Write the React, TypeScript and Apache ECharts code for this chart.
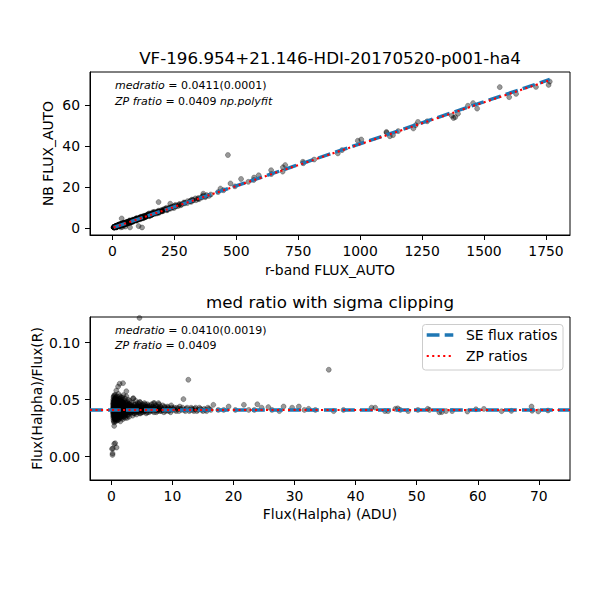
import React, { useEffect, useRef } from "react";
import * as echarts from "echarts";

const FONT = "DejaVu Sans";
const TITLE_TOP = "VF-196.954+21.146-HDI-20170520-p001-ha4";
const TITLE_BOTTOM = "med ratio with sigma clipping";
const X_NAME_TOP = "r-band FLUX_AUTO";
const Y_NAME_TOP = "NB FLUX_AUTO";
const X_NAME_BOTTOM = "Flux(Halpha) (ADU)";
const Y_NAME_BOTTOM = "Flux(Halpha)/Flux(R)";
const LEGEND_SE = "SE flux ratios";
const LEGEND_ZP = "ZP ratios";

const MED_RATIO_TOP = 0.0411;
const MED_ERR_TOP = 0.0001;
const ZP_RATIO = 0.0409;
const MED_RATIO_BOTTOM = 0.041;
const MED_ERR_BOTTOM = 0.0019;

const topXTicks = [0, 250, 500, 750, 1000, 1250, 1500, 1750];
const topYTicks = [0, 20, 40, 60];
const bottomXTicks = [0, 10, 20, 30, 40, 50, 60, 70];
const bottomYTicks = [0, 0.05, 0.1];

const TOP_X_RANGE = [-90, 1847];
const TOP_Y_RANGE = [-3.5, 76.2];
const BOTTOM_X_RANGE = [-3.5, 75.1];
const BOTTOM_Y_RANGE = [-0.0205, 0.1226];

// [NB flux, NB / r-band flux ratio]
const faintSources: [number, number][] = [
  [0.22, 0.041], [0.25, 0.046], [0.28, 0.036], [0.3, 0.05], [0.31, 0.039], [0.33, 0.044],
  [0.35, 0.032], [0.36, 0.047], [0.38, 0.041], [0.4, 0.053], [0.41, 0.037], [0.43, 0.043],
  [0.45, 0.03], [0.46, 0.049], [0.48, 0.04], [0.5, 0.045], [0.52, 0.034], [0.53, 0.051],
  [0.55, 0.042], [0.57, 0.038], [0.58, 0.047], [0.6, 0.033], [0.62, 0.044], [0.63, 0.054],
  [0.65, 0.04], [0.67, 0.036], [0.68, 0.048], [0.7, 0.042], [0.72, 0.031], [0.74, 0.045],
  [0.75, 0.052], [0.77, 0.039], [0.79, 0.043], [0.8, 0.035], [0.82, 0.049], [0.84, 0.041],
  [0.86, 0.046], [0.88, 0.037], [0.9, 0.053], [0.92, 0.04], [0.94, 0.044], [0.96, 0.032],
  [0.98, 0.048],
  [0.26, 0.038], [0.27, 0.043], [0.29, 0.048], [0.3, 0.034], [0.32, 0.041], [0.34, 0.052],
  [0.35, 0.039], [0.37, 0.044], [0.38, 0.035], [0.39, 0.049], [0.41, 0.042], [0.42, 0.031],
  [0.44, 0.046], [0.45, 0.04], [0.47, 0.054], [0.48, 0.036], [0.49, 0.043], [0.51, 0.048],
  [0.52, 0.039], [0.54, 0.033], [0.55, 0.045], [0.56, 0.05], [0.58, 0.041], [0.59, 0.037],
  [0.61, 0.047], [0.62, 0.034], [0.64, 0.042], [0.65, 0.051], [0.66, 0.044], [0.68, 0.038],
  [0.69, 0.032], [0.71, 0.046], [0.73, 0.04], [0.74, 0.049], [0.76, 0.035], [0.78, 0.044],
  [0.79, 0.05], [0.81, 0.038], [0.83, 0.042], [0.85, 0.033], [0.87, 0.047], [0.89, 0.041],
  [0.91, 0.036], [0.93, 0.05], [0.95, 0.043], [0.97, 0.039], [0.99, 0.045],
  [0.3, 0.042], [0.34, 0.045], [0.37, 0.038], [0.42, 0.047], [0.44, 0.036], [0.47, 0.041],
  [0.51, 0.044], [0.54, 0.04], [0.57, 0.046], [0.6, 0.039], [0.64, 0.047], [0.67, 0.043],
  [0.71, 0.038], [0.73, 0.044], [0.77, 0.047], [0.81, 0.041], [0.85, 0.045], [0.89, 0.039],
  [0.93, 0.043], [0.97, 0.046],
];

const midSources: [number, number][] = [
  [1.0, 0.042], [1.03, 0.038], [1.05, 0.05], [1.08, 0.035], [1.1, 0.045], [1.12, 0.041],
  [1.15, 0.055], [1.17, 0.039], [1.2, 0.047], [1.22, 0.033], [1.25, 0.043], [1.28, 0.051],
  [1.3, 0.04], [1.33, 0.036], [1.35, 0.046], [1.38, 0.042], [1.4, 0.053], [1.43, 0.038],
  [1.45, 0.044], [1.48, 0.031], [1.5, 0.049], [1.53, 0.041], [1.55, 0.037], [1.58, 0.045],
  [1.6, 0.052], [1.63, 0.04], [1.65, 0.034], [1.68, 0.047], [1.7, 0.043], [1.73, 0.039],
  [1.75, 0.05], [1.78, 0.036], [1.8, 0.044], [1.83, 0.041], [1.85, 0.048], [1.88, 0.033],
  [1.9, 0.042], [1.93, 0.046], [1.95, 0.038], [1.98, 0.054],
  [2.0, 0.04], [2.04, 0.045], [2.08, 0.035], [2.12, 0.049], [2.15, 0.042], [2.2, 0.038],
  [2.24, 0.051], [2.28, 0.043], [2.32, 0.036], [2.36, 0.046], [2.4, 0.041], [2.45, 0.053],
  [2.48, 0.039], [2.52, 0.044], [2.56, 0.034], [2.6, 0.048], [2.65, 0.042], [2.7, 0.037],
  [2.74, 0.05], [2.78, 0.043], [2.82, 0.04], [2.86, 0.046], [2.9, 0.035], [2.95, 0.044],
  [3.0, 0.049], [3.05, 0.041], [3.1, 0.038], [3.15, 0.045], [3.2, 0.042],
  [1.01, 0.036], [1.04, 0.044], [1.06, 0.04], [1.09, 0.048], [1.11, 0.032], [1.14, 0.043],
  [1.16, 0.046], [1.19, 0.037], [1.21, 0.041], [1.24, 0.05], [1.26, 0.035], [1.29, 0.044],
  [1.31, 0.039], [1.34, 0.048], [1.36, 0.042], [1.39, 0.034], [1.42, 0.045], [1.44, 0.04],
  [1.47, 0.051], [1.49, 0.037], [1.52, 0.043], [1.54, 0.047], [1.57, 0.035], [1.59, 0.041],
  [1.62, 0.045], [1.64, 0.039], [1.67, 0.049], [1.69, 0.036], [1.72, 0.042], [1.74, 0.046],
  [1.77, 0.04], [1.79, 0.052], [1.82, 0.038], [1.84, 0.043], [1.87, 0.047], [1.89, 0.041],
  [1.92, 0.035], [1.94, 0.044], [1.97, 0.04], [2.02, 0.047], [2.06, 0.039], [2.1, 0.043],
  [2.14, 0.037], [2.18, 0.046], [2.22, 0.041], [2.26, 0.034], [2.3, 0.048], [2.34, 0.04],
  [2.38, 0.044], [2.43, 0.038], [2.5, 0.047], [2.58, 0.041], [2.63, 0.036], [2.68, 0.045],
  [2.76, 0.04], [2.84, 0.043], [2.92, 0.039], [2.98, 0.046], [3.08, 0.043], [3.18, 0.039],
  [1.02, 0.043], [1.07, 0.039], [1.13, 0.047], [1.18, 0.042], [1.23, 0.038], [1.27, 0.046],
  [1.32, 0.041], [1.37, 0.044], [1.41, 0.039], [1.46, 0.047], [1.51, 0.042], [1.56, 0.04],
  [1.61, 0.046], [1.66, 0.043], [1.71, 0.038], [1.76, 0.045], [1.81, 0.041], [1.86, 0.044],
  [1.91, 0.039], [1.96, 0.047], [2.05, 0.042], [2.16, 0.045], [2.27, 0.039], [2.37, 0.043],
  [2.47, 0.041], [2.57, 0.045], [2.67, 0.039], [2.8, 0.044], [2.93, 0.041], [3.03, 0.044],
  [3.13, 0.04],
];

const brightSources: [number, number][] = [
  [3.25, 0.047], [3.32, 0.039], [3.4, 0.044], [3.48, 0.036], [3.55, 0.051], [3.6, 0.042],
  [3.68, 0.04], [3.75, 0.046], [3.82, 0.038], [3.9, 0.043], [3.98, 0.049], [4.05, 0.041],
  [4.12, 0.037], [4.2, 0.045], [4.28, 0.042], [4.35, 0.047], [4.42, 0.039], [4.5, 0.044],
  [4.58, 0.04], [4.65, 0.048], [4.72, 0.043], [4.8, 0.038], [4.9, 0.045], [5.0, 0.041],
  [5.1, 0.046], [5.2, 0.039], [5.3, 0.043], [5.4, 0.047], [5.5, 0.04], [5.6, 0.044],
  [5.7, 0.038], [5.8, 0.042], [5.9, 0.046], [6.0, 0.041], [6.15, 0.039], [6.3, 0.044],
  [6.45, 0.042],
  [6.6, 0.046], [6.75, 0.04], [6.9, 0.043], [7.05, 0.047], [7.2, 0.041], [7.35, 0.039],
  [7.5, 0.044], [7.65, 0.042], [7.8, 0.046], [7.95, 0.04], [8.1, 0.043], [8.25, 0.041],
  [8.4, 0.045], [8.6, 0.039], [8.8, 0.043], [9.0, 0.041], [9.2, 0.044], [9.4, 0.04],
  [9.6, 0.042], [9.8, 0.045],
  [10.0, 0.041], [10.3, 0.043], [10.6, 0.04], [10.9, 0.042], [11.2, 0.044], [11.5, 0.041],
  [12.1, 0.04], [12.4, 0.043], [12.9, 0.041], [13.2, 0.042], [13.5, 0.04], [13.8, 0.043],
  [14.2, 0.041], [14.6, 0.042], [15.0, 0.04], [15.4, 0.041], [15.8, 0.043],
  [3.28, 0.042], [3.36, 0.045], [3.44, 0.04], [3.52, 0.043], [3.64, 0.038], [3.72, 0.044],
  [3.86, 0.041], [3.94, 0.046], [4.02, 0.039], [4.16, 0.043], [4.24, 0.04], [4.32, 0.044],
  [4.46, 0.041], [4.54, 0.046], [4.62, 0.038], [4.76, 0.042], [4.85, 0.044], [4.95, 0.039],
  [5.05, 0.043], [5.15, 0.041], [5.25, 0.045], [5.35, 0.04], [5.45, 0.042], [5.55, 0.046],
  [5.65, 0.041], [5.75, 0.044], [5.85, 0.039], [5.95, 0.043], [6.08, 0.042], [6.22, 0.045],
  [6.38, 0.04], [6.52, 0.043], [6.68, 0.041], [6.82, 0.044], [6.98, 0.039], [7.12, 0.043],
  [7.28, 0.045], [7.42, 0.041], [7.58, 0.04], [7.72, 0.043], [7.88, 0.042], [8.02, 0.044],
  [8.18, 0.04], [8.32, 0.042], [8.5, 0.041], [8.7, 0.044], [8.9, 0.04], [9.1, 0.042],
  [9.3, 0.043], [9.5, 0.041], [9.7, 0.039], [9.9, 0.043], [10.15, 0.042], [10.45, 0.041],
  [10.75, 0.043], [11.05, 0.04], [11.35, 0.042], [11.65, 0.043], [11.95, 0.041],
  [12.25, 0.042], [12.75, 0.04], [13.05, 0.043], [13.35, 0.041], [13.65, 0.042],
  [14.0, 0.04], [14.4, 0.043], [14.8, 0.041], [15.2, 0.042], [15.6, 0.04], [16.0, 0.042],
  [16.3, 0.041],
  [3.3, 0.043], [3.5, 0.041], [3.7, 0.043], [3.9, 0.04], [4.1, 0.044], [4.3, 0.041],
  [4.55, 0.043], [4.8, 0.041], [5.1, 0.043], [5.4, 0.041], [5.7, 0.043], [6.0, 0.044],
  [6.4, 0.041], [6.8, 0.042], [7.2, 0.043], [7.6, 0.041],
];

const brightestSources: [number, number][] = [
  [16.7, 0.0455], [17.5, 0.041], [18.4, 0.041], [19.2, 0.044], [20.3, 0.041], [21.7, 0.0455],
  [22.5, 0.041], [23.4, 0.041], [23.9, 0.046], [24.6, 0.043], [25.7, 0.0435], [26.3, 0.041],
  [27.5, 0.04], [28.2, 0.044], [29.6, 0.043], [30.7, 0.044], [31.6, 0.041], [32.3, 0.042],
  [33.4, 0.041], [36.4, 0.04], [38.0, 0.041], [42.6, 0.043], [43.2, 0.043], [44.8, 0.04],
  [45.3, 0.04], [46.5, 0.042], [46.9, 0.0424], [47.3, 0.041], [48.6, 0.04], [50.2, 0.041],
  [51.8, 0.042], [52.1, 0.041], [53.7, 0.039], [54.1, 0.0391], [54.8, 0.04], [55.8, 0.04],
  [58.3, 0.0396], [59.7, 0.0416], [61.0, 0.0419], [63.9, 0.0399], [65.5, 0.0402],
  [68.8, 0.044], [68.9, 0.0403], [69.9, 0.0397], [71.5, 0.0405],
];

const lowRatioSources: [number, number][] = [
  [0.18, 0.0015], [0.1, 0.0068], [0.25, 0.0072], [0.46, 0.0112], [0.62, 0.0118],
  [0.85, 0.008], [0.2, 0.0028], [0.46, 0.027],
];

const highRatioSources: [number, number][] = [
  [0.8, 0.058], [1.1, 0.0615], [1.35, 0.064], [1.9, 0.0645], [2.45, 0.0574], [3.6, 0.0513],
  [4.7, 0.0477], [6.9, 0.047], [7.7, 0.047], [4.6, 0.1218], [11.8, 0.0505], [12.6, 0.0675],
  [35.6, 0.0763],
];

const allSources = [
  ...faintSources,
  ...midSources,
  ...brightSources,
  ...brightestSources,
  ...lowRatioSources,
  ...highRatioSources,
];

const BLUE = "#1f77b4";
const RED = "#ff0000";
const BLUE_DASH = [12.8, 5.2];
const RED_DOT = [2.1, 3.4];

export default function App() {
  const ref = useRef<HTMLDivElement>(null);

  useEffect(() => {
    if (!ref.current) return;
    const chart = echarts.init(ref.current, undefined, { renderer: "svg" });

    const rFlux = allSources.map(([nb, ratio]) => nb / ratio);
    const rMin = Math.min(...rFlux);
    const rMax = Math.max(...rFlux);
    const topPoints = allSources.map(([nb, ratio]) => [nb / ratio, nb]);
    const bottomPoints = allSources.map(([nb, ratio]) => [nb, ratio]);

    const textBase = { color: "#000", fontFamily: FONT, fontSize: 13.9 };

    const makeAxis = (
      gridIndex: number,
      range: number[],
      ticks: number[],
      name: string,
      nameGap: number,
      isY: boolean,
      fmt?: (v: number) => string
    ) => ({
      type: "value",
      gridIndex,
      min: range[0],
      max: range[1],
      name,
      nameLocation: "middle",
      nameGap,
      nameMoveOverlap: false,
      nameRotate: isY ? 90 : 0,
      nameTextStyle: textBase,
      axisLine: { show: true, onZero: false, lineStyle: { color: "#000", width: 1 } },
      axisTick: {
        show: true,
        length: 5,
        customValues: ticks,
        lineStyle: { color: "#000", width: 1 },
      },
      axisLabel: {
        ...textBase,
        margin: isY ? 10 : 9,
        customValues: ticks,
        formatter: fmt ? (v: number) => fmt(v) : (v: number) => String(v),
      },
      splitLine: { show: false },
    });

    const pointStyle = {
      color: "rgba(0,0,0,0.5)",
      borderColor: "rgba(0,0,0,0.5)",
      borderWidth: 0.7,
    };

    const annotation = (x: number, y: number, text: string) => ({
      type: "text",
      x,
      y,
      z: 100,
      style: {
        text,
        fill: "#000",
        fontFamily: FONT,
        fontSize: 11,
        verticalAlign: "middle",
        align: "left",
        rich: {
          i: { fontStyle: "italic", fontFamily: FONT, fontSize: 11, fill: "#000" },
        },
      },
    });

    chart.setOption({
      animation: false,
      backgroundColor: "#fff",
      grid: [
        {
          left: 90,
          top: 72,
          width: 480,
          height: 163,
          show: true,
          borderColor: "#000",
          borderWidth: 1,
          backgroundColor: "#fff",
        },
        {
          left: 90,
          top: 317,
          width: 480,
          height: 163,
          show: true,
          borderColor: "#000",
          borderWidth: 1,
          backgroundColor: "#fff",
        },
      ],
      xAxis: [
        makeAxis(0, TOP_X_RANGE, topXTicks, X_NAME_TOP, 28, false),
        makeAxis(1, BOTTOM_X_RANGE, bottomXTicks, X_NAME_BOTTOM, 27, false),
      ],
      yAxis: [
        makeAxis(0, TOP_Y_RANGE, topYTicks, Y_NAME_TOP, 35, true),
        makeAxis(1, BOTTOM_Y_RANGE, bottomYTicks, Y_NAME_BOTTOM, 46, true, (v) => v.toFixed(2)),
      ],
      series: [
        {
          type: "scatter",
          xAxisIndex: 0,
          yAxisIndex: 0,
          data: topPoints,
          symbolSize: 5,
          itemStyle: pointStyle,
          z: 2,
        },
        {
          type: "line",
          xAxisIndex: 0,
          yAxisIndex: 0,
          data: [
            [rMin, MED_RATIO_TOP * rMin],
            [rMax, MED_RATIO_TOP * rMax],
          ],
          showSymbol: false,
          symbol: "none",
          lineStyle: { color: BLUE, width: 3.4, type: BLUE_DASH },
          z: 3,
        },
        {
          type: "line",
          xAxisIndex: 0,
          yAxisIndex: 0,
          data: [
            [rMin, ZP_RATIO * rMin],
            [rMax, ZP_RATIO * rMax],
          ],
          showSymbol: false,
          symbol: "none",
          lineStyle: { color: RED, width: 2.1, type: RED_DOT },
          z: 4,
        },
        {
          type: "scatter",
          xAxisIndex: 1,
          yAxisIndex: 1,
          data: bottomPoints,
          symbolSize: 5,
          itemStyle: pointStyle,
          z: 2,
        },
        {
          type: "line",
          xAxisIndex: 1,
          yAxisIndex: 1,
          data: [
            [BOTTOM_X_RANGE[0], MED_RATIO_BOTTOM],
            [BOTTOM_X_RANGE[1], MED_RATIO_BOTTOM],
          ],
          showSymbol: false,
          symbol: "none",
          lineStyle: { color: BLUE, width: 3.4, type: BLUE_DASH },
          z: 3,
        },
        {
          type: "line",
          xAxisIndex: 1,
          yAxisIndex: 1,
          data: [
            [BOTTOM_X_RANGE[0], ZP_RATIO],
            [BOTTOM_X_RANGE[1], ZP_RATIO],
          ],
          showSymbol: false,
          symbol: "none",
          lineStyle: { color: RED, width: 2.1, type: RED_DOT },
          z: 4,
        },
      ],
      graphic: [
        {
          type: "text",
          x: 330,
          y: 58,
          style: {
            text: TITLE_TOP,
            fill: "#000",
            fontFamily: FONT,
            fontSize: 16.7,
            align: "center",
            verticalAlign: "middle",
          },
        },
        {
          type: "text",
          x: 330,
          y: 302,
          style: {
            text: TITLE_BOTTOM,
            fill: "#000",
            fontFamily: FONT,
            fontSize: 16.7,
            align: "center",
            verticalAlign: "middle",
          },
        },
        annotation(
          115,
          85,
          `{i|medratio} = ${MED_RATIO_TOP.toFixed(4)}(${MED_ERR_TOP.toFixed(4)})`
        ),
        annotation(115, 101, `{i|ZP fratio} = ${ZP_RATIO.toFixed(4)} {i|np.polyfit}`),
        annotation(
          115,
          330,
          `{i|medratio} = ${MED_RATIO_BOTTOM.toFixed(4)}(${MED_ERR_BOTTOM.toFixed(4)})`
        ),
        annotation(115, 345, `{i|ZP fratio} = ${ZP_RATIO.toFixed(4)}`),
        {
          type: "rect",
          z: 100,
          shape: { x: 422.5, y: 324.5, width: 140.5, height: 45.5, r: 3 },
          style: { fill: "rgba(255,255,255,0.8)", stroke: "#cccccc", lineWidth: 1 },
        },
        {
          type: "line",
          z: 101,
          shape: { x1: 426.7, y1: 335, x2: 453.3, y2: 335 },
          style: { stroke: BLUE, lineWidth: 3.4, lineDash: BLUE_DASH },
        },
        {
          type: "line",
          z: 101,
          shape: { x1: 426.7, y1: 356, x2: 453.3, y2: 356 },
          style: { stroke: RED, lineWidth: 2.1, lineDash: RED_DOT },
        },
        {
          type: "text",
          z: 101,
          x: 466,
          y: 335,
          style: {
            text: LEGEND_SE,
            fill: "#000",
            fontFamily: FONT,
            fontSize: 13.9,
            verticalAlign: "middle",
          },
        },
        {
          type: "text",
          z: 101,
          x: 466,
          y: 356,
          style: {
            text: LEGEND_ZP,
            fill: "#000",
            fontFamily: FONT,
            fontSize: 13.9,
            verticalAlign: "middle",
          },
        },
      ],
    });

    return () => chart.dispose();
  }, []);

  return (
    <div
      ref={ref}
      style={{ position: "fixed", left: 0, top: 0, width: 600, height: 600, background: "#fff" }}
    />
  );
}
